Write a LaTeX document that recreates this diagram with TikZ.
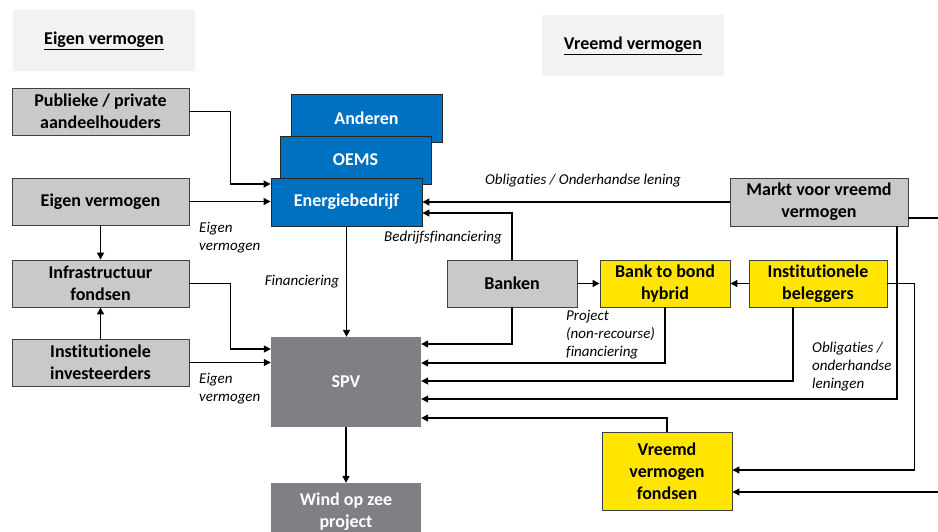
\documentclass[tikz,border=0pt]{standalone}
\usepackage{fontspec}
\setmainfont{Carlito}[Ligatures={NoCommon}]
\usetikzlibrary{arrows.meta,calc}
\definecolor{boxgray}{HTML}{C9C9C9}
\definecolor{titlegray}{HTML}{F2F2F2}
\definecolor{edgegray}{HTML}{404040}
\definecolor{eblue}{HTML}{0070C0}
\definecolor{eyellow}{HTML}{FFE500}
\definecolor{spvgray}{HTML}{7F7F84}
\tikzset{
  bx/.style={draw=edgegray, line width=0.9pt, inner sep=0pt, align=center,
    font=\fontsize{18}{22}\selectfont\bfseries},
  graybox/.style={bx, fill=boxgray, minimum width=177pt, minimum height=47pt},
  bluebox/.style={bx, fill=eblue, draw=black!85, text=white, minimum width=151pt, minimum height=48pt},
  yelbox/.style={bx, fill=eyellow},
  darkbox/.style={inner sep=0pt, align=center, fill=spvgray, text=white,
    font=\fontsize{18}{22}\selectfont\bfseries},
  titlebox/.style={fill=titlegray, inner sep=0pt, minimum width=182pt, minimum height=61pt,
    font=\fontsize{18}{22}\selectfont\bfseries},
  lbl/.style={inner sep=0pt, align=left, font=\fontsize{15}{18}\selectfont\itshape},
  arr/.style={line width=1.3pt, -{Triangle[length=7pt,width=7pt]}},
  ln/.style={line width=1.3pt},
}
\begin{document}
\begin{tikzpicture}[x=1pt,y=-1pt]
\useasboundingbox (0,0) rectangle (938,531);
% titles
\node[titlebox] (t1) at (104,40.5) {\underline{Eigen vermogen}};
\node[titlebox] (t2) at (633,45.5) {\underline{Vreemd vermogen}};
% left column
\node[graybox] (pub) at (100.5,111.5) {Publieke / private\\aandeelhouders};
\node[graybox] (eig) at (100.5,201.5) {Eigen vermogen};
\node[graybox] (infra) at (100.5,283.5) {Infrastructuur\\fondsen};
\node[graybox] (inst) at (100.5,362.5) {Institutionele\\investeerders};
% blue stack
\node[bluebox] (and) at (366.5,118) {Anderen};
\node[bluebox] (oems) at (355.5,160) {OEMS};
\node[bluebox] (energ) at (346.5,202) {Energiebedrijf};
% SPV and project
\node[darkbox, minimum width=150pt, minimum height=90pt] (spv) at (346,382) {SPV};
\node[darkbox, minimum width=150pt, minimum height=58pt] (wind) at (346,512) {Wind op zee\\project};
% right side
\node[graybox, minimum width=130pt] (banken) at (512,283.5) {Banken};
\node[yelbox, minimum width=130pt, minimum height=47pt] (btb) at (665,283.5) {Bank to bond\\hybrid};
\node[yelbox, minimum width=138pt, minimum height=47pt] (ib) at (818,283.5) {Institutionele\\beleggers};
\node[graybox, minimum width=178pt, minimum height=48pt] (markt) at (819,202) {Markt voor vreemd\\vermogen};
\node[yelbox, minimum width=130pt, minimum height=78pt] (vvf) at (667,471) {Vreemd\\vermogen\\fondsen};
\coordinate (offA) at (938,218);
\coordinate (offB) at (938,492);
% connectors left
\draw[arr] (pub.east) -- ++(41,0) |- ([yshift=18pt]energ.west);
\draw[arr] (eig.east) -- (eig.east -| energ.west);
\draw[arr] (eig.south) -- (infra.north);
\draw[arr] (inst.north) -- (infra.south);
\draw[arr] (infra.east) -- ++(41,0) |- ([yshift=33pt]spv.west);
\draw[arr] (inst.east) -- (inst.east -| spv.west);
\draw[arr] (energ.south) -- (energ.south |- spv.north);
% connectors right
\draw[arr] (markt.west) -- (markt.west -| energ.east);
\draw[arr] (banken.north) |- ([yshift=-11pt]energ.east);
\draw[arr] (banken.east) -- (btb.west);
\draw[arr] (ib.west) -- (btb.east);
\draw[arr] (banken.south) |- ([yshift=38pt]spv.east);
\draw[arr] (btb.south) |- ([yshift=19pt]spv.east);
\draw[arr] ([xshift=-25pt]ib.south) |- ([yshift=1pt]spv.east);
\draw[arr] ([xshift=78pt]markt.south) |- ([yshift=-17pt]spv.east);
\draw[arr] (ib.east) -- ++(27,0) |- ([yshift=1pt]vvf.east);
\draw[ln] ([yshift=-16pt]markt.east) -- (offA);
\draw[arr] (offB) -- (offB -| vvf.east);
\draw[arr] (vvf.north) |- ([yshift=-36pt]spv.east);
\draw[arr] (spv.south) -- (wind.north);
% labels
\node[lbl, anchor=center] (l1) at (583,181) {Obligaties / Onderhandse lening};
\node[lbl, anchor=north west] (l2) at (199,222) {Eigen\\vermogen};
\node[lbl, anchor=center] (l3) at (443,238) {Bedrijfsfinanciering};
\node[lbl, anchor=center] (l4) at (302,282) {Financiering};
\node[lbl, anchor=north west] (l5) at (566,310) {Project\\(non-recourse)\\financiering};
\node[lbl, anchor=north west] (l6) at (812,342) {Obligaties /\\onderhandse\\leningen};
\node[lbl, anchor=north west] (l7) at (199,373) {Eigen\\vermogen};
\end{tikzpicture}
\end{document}
